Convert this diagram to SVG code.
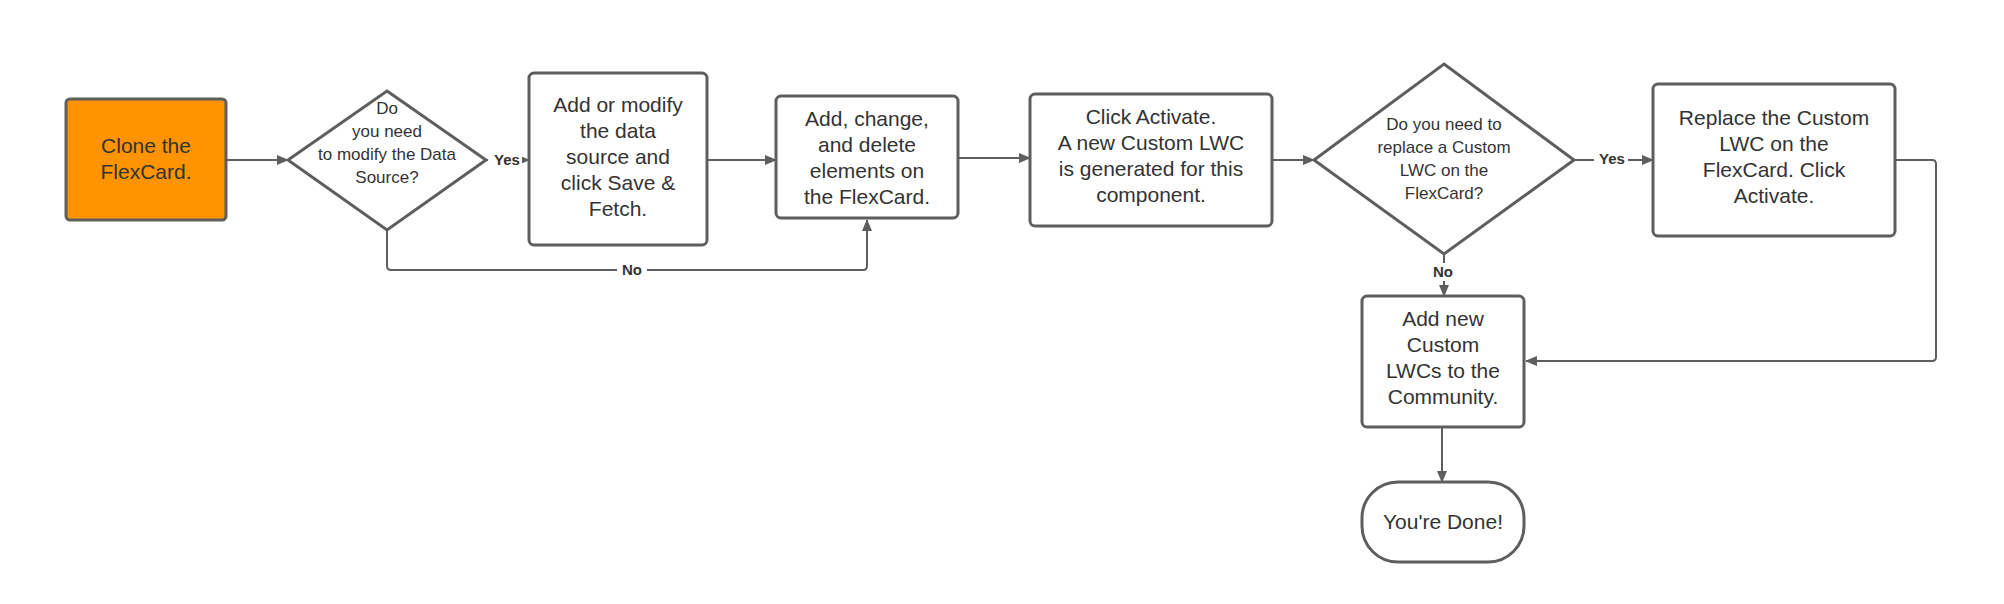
<svg xmlns="http://www.w3.org/2000/svg" width="2004" height="604" viewBox="0 0 2004 604">
<defs>
<style>
.n{fill:#fff;stroke:#5e5e5e;stroke-width:3}
.t{font-family:"Liberation Sans",Arial,sans-serif;font-size:21px;fill:#333;text-anchor:middle}
.s{font-size:17px}
.c{fill:none;stroke:#5e5e5e;stroke-width:2}
.l{font-family:"Liberation Sans",Arial,sans-serif;font-size:15px;font-weight:bold;fill:#333;text-anchor:middle}
</style>
<marker id="a" markerWidth="12" markerHeight="10" refX="11" refY="5" orient="auto" markerUnits="userSpaceOnUse"><path d="M0,0L12,5L0,10z" fill="#5e5e5e"/></marker>
</defs>
<rect width="2004" height="604" fill="#fff"/>
<g id="connectors">
<path class="c" d="M226,160H288" marker-end="url(#a)"/>
<path class="c" d="M486,160H529" marker-end="url(#a)"/>
<path class="c" d="M707,160H776" marker-end="url(#a)"/>
<path class="c" d="M958,158H1030" marker-end="url(#a)"/>
<path class="c" d="M1272,160H1314" marker-end="url(#a)"/>
<path class="c" d="M1574,160H1653" marker-end="url(#a)"/>
<path class="c" d="M387,230V266q0,4 4,4H863q4,0 4,-4V220" marker-end="url(#a)"/>
<path class="c" d="M1444,254V296" marker-end="url(#a)"/>
<path class="c" d="M1895,160H1932q4,0 4,4V357q0,4 -4,4H1526" marker-end="url(#a)"/>
<path class="c" d="M1442,427V482" marker-end="url(#a)"/>
<rect x="488" y="150" width="34" height="18" fill="#fff"/><text class="l" x="507" y="165">Yes</text>
<rect x="1594" y="150" width="34" height="18" fill="#fff"/><text class="l" x="1612" y="164">Yes</text>
<rect x="617" y="261" width="30" height="18" fill="#fff"/><text class="l" x="632" y="275">No</text>
<rect x="1429" y="263" width="30" height="18" fill="#fff"/><text class="l" x="1443" y="277">No</text>
</g>
<g id="n1"><rect x="66" y="99" width="160" height="121" rx="4" fill="#ff9300" stroke="#5e5e5e" stroke-width="3"/>
<text class="t" x="146" y="153">Clone the</text><text class="t" x="146" y="179">FlexCard.</text></g>
<g id="n2"><path class="n" d="M387,91L486,160L387,230L288,160Z"/>
<text class="t s" x="387" y="114">Do</text><text class="t s" x="387" y="137">you need</text><text class="t s" x="387" y="160">to modify the Data</text><text class="t s" x="387" y="183">Source?</text></g>
<g id="n3"><rect class="n" x="529" y="73" width="178" height="172" rx="5"/>
<text class="t" x="618" y="112">Add or modify</text><text class="t" x="618" y="138">the data</text><text class="t" x="618" y="164">source and</text><text class="t" x="618" y="190">click Save &amp;</text><text class="t" x="618" y="216">Fetch.</text></g>
<g id="n4"><rect class="n" x="776" y="96" width="182" height="122" rx="5"/>
<text class="t" x="867" y="126">Add, change,</text><text class="t" x="867" y="152">and delete</text><text class="t" x="867" y="178">elements on</text><text class="t" x="867" y="204">the FlexCard.</text></g>
<g id="n5"><rect class="n" x="1030" y="94" width="242" height="132" rx="5"/>
<text class="t" x="1151" y="124">Click Activate.</text><text class="t" x="1151" y="150">A new Custom LWC</text><text class="t" x="1151" y="176">is generated for this</text><text class="t" x="1151" y="202">component.</text></g>
<g id="n6"><path class="n" d="M1444,64L1574,160L1444,254L1314,160Z"/>
<text class="t s" x="1444" y="130">Do you need to</text><text class="t s" x="1444" y="153">replace a Custom</text><text class="t s" x="1444" y="176">LWC on the</text><text class="t s" x="1444" y="199">FlexCard?</text></g>
<g id="n7"><rect class="n" x="1653" y="84" width="242" height="152" rx="5"/>
<text class="t" x="1774" y="125">Replace the Custom</text><text class="t" x="1774" y="151">LWC on the</text><text class="t" x="1774" y="177">FlexCard. Click</text><text class="t" x="1774" y="203">Activate.</text></g>
<g id="n8"><rect class="n" x="1362" y="296" width="162" height="131" rx="5"/>
<text class="t" x="1443" y="326">Add new</text><text class="t" x="1443" y="352">Custom</text><text class="t" x="1443" y="378">LWCs to the</text><text class="t" x="1443" y="404">Community.</text></g>
<g id="n9"><rect class="n" x="1362" y="482" width="162" height="80" rx="36"/>
<text class="t" x="1443" y="529">You're Done!</text></g>
</svg>
